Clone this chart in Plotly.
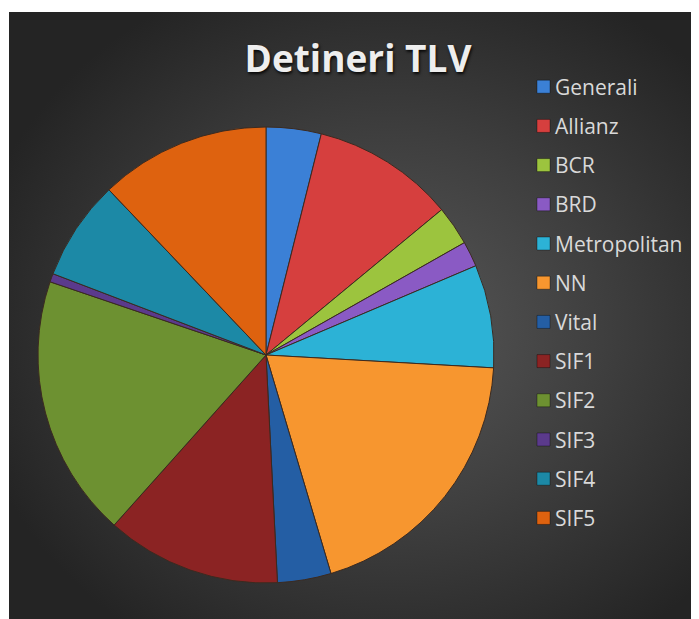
import base64
import plotly.graph_objects as go

labels = ["Generali", "Allianz", "BCR", "BRD", "Metropolitan", "NN", "Vital",
          "SIF1", "SIF2", "SIF3", "SIF4", "SIF5"]
values = [3.9, 10.1, 2.8, 1.8, 7.3, 19.5, 3.8, 12.4, 18.6, 0.6, 7.1, 12.1]
colors = ["#3b80d6", "#d63f3e", "#9cc43e", "#8a5ac4", "#2cb2d6", "#f7962f",
          "#245ea4", "#8b2323", "#6d9131", "#5b3a8c", "#1c89a6", "#de620f"]
title_text = "Detineri TLV"

# page has an 8px body margin; figure sized to fit the 699x619 window
W, H = 691, 611
OX, OY = 8, 8  # page offset of the figure

def px(x):  # page x -> paper
    return (x - OX) / W

def py(y):  # page y -> paper
    return 1 - (y - OY) / H

svg = """<svg xmlns='http://www.w3.org/2000/svg' width='690' height='607' viewBox='0 0 690 607' preserveAspectRatio='none'>
<defs><radialGradient id='g' cx='55%' cy='52%' r='62%'>
<stop offset='0%' stop-color='#585858'/>
<stop offset='50%' stop-color='#3f3f3f'/>
<stop offset='100%' stop-color='#242424'/>
</radialGradient></defs>
<rect x='0' y='0' width='690' height='607' fill='url(#g)'/>
</svg>"""
bg_uri = "data:image/svg+xml;base64," + base64.b64encode(svg.encode()).decode()

cx, cy, r = 266, 355, 228  # page coords of pie
fig = go.Figure(go.Pie(
    labels=labels, values=values, sort=False, direction="clockwise", rotation=0,
    marker=dict(colors=colors, line=dict(color="#3b2a20", width=1)),
    textinfo="none", hoverinfo="label+percent", showlegend=False,
    domain=dict(x=[px(cx - r), px(cx + r)], y=[py(cy + r), py(cy - r)]),
))

leg_x, leg_y0, leg_dy = 537, 86.7, 39.2
annotations = []
shapes = []
for i, (lab, col) in enumerate(zip(labels, colors)):
    y = leg_y0 + i * leg_dy
    shapes.append(dict(type="rect", xref="paper", yref="paper",
                       x0=px(leg_x), x1=px(leg_x + 13),
                       y0=py(y + 6.5), y1=py(y - 6.5),
                       fillcolor=col, line=dict(color="rgba(0,0,0,0.35)", width=1)))
    annotations.append(dict(text=lab, xref="paper", yref="paper",
                            x=px(leg_x + 16), y=py(y), xanchor="left", yanchor="middle",
                            showarrow=False,
                            font=dict(family="Open Sans", size=21, color="#d9d9d9")))

fig.update_layout(
    width=W, height=H,
    margin=dict(l=0, r=0, t=0, b=0),
    paper_bgcolor="white",
    title=dict(text=f"<b>{title_text}</b>", x=px(358), y=py(59), xanchor="center", yanchor="middle",
               font=dict(family="Open Sans", size=37, color="#eeeeee",
                         shadow="1px 2px 3px rgba(0,0,0,0.85)")),
    images=[dict(source=bg_uri, xref="paper", yref="paper", x=px(9), y=py(12),
                 sizex=(W - 1) / W, sizey=(H - 4) / H, xanchor="left", yanchor="top",
                 sizing="stretch", layer="below")],
    shapes=shapes,
    annotations=annotations,
)

fig.write_html("out.html")
